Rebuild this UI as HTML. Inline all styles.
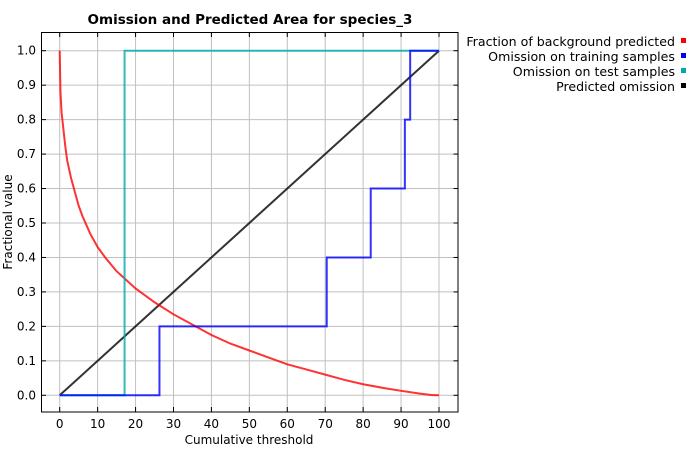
<!DOCTYPE html>
<html><head><meta charset="utf-8"><style>
body{margin:0;background:#fff;font-family:"DejaVu Sans","Liberation Sans",sans-serif;}
svg text{font-family:"DejaVu Sans","Liberation Sans",sans-serif;}
</style></head><body>
<svg id="chart" width="700" height="450" xmlns="http://www.w3.org/2000/svg">
<text x="250" y="24" text-anchor="middle" font-size="13.5" font-weight="bold">Omission and Predicted Area for species_3</text>
<g id="grid"></g>
<rect x="41.5" y="32.5" width="416.5" height="379.5" fill="none" stroke="#000" stroke-width="1"/>
<g id="ticks"></g>
<g id="series"></g>
<text x="249" y="444" text-anchor="middle" font-size="12">Cumulative threshold</text>
<text transform="translate(12,222) rotate(-90)" text-anchor="middle" font-size="12">Fractional value</text>
<g id="legend"></g>
</svg>
<script>
const xTicks=[0,10,20,30,40,50,60,70,80,90,100];
const yTicks=[0,0.1,0.2,0.3,0.4,0.5,0.6,0.7,0.8,0.9,1.0];
const bgX=[0,0.2,0.5,1,1.5,2,3,4,5,6,8,10,12,15,20,25,30,35,40,45,50,55,60,65,70,75,80,85,90,95,98,100];
const bgY=[1,0.88,0.82,0.77,0.72,0.68,0.63,0.59,0.55,0.52,0.47,0.43,0.40,0.36,0.31,0.27,0.235,0.205,0.175,0.15,0.13,0.11,0.09,0.075,0.06,0.045,0.032,0.022,0.013,0.005,0.001,0];
const trainX=[0,26.3,26.3,70.4,70.4,82,82,91,91,92.4,92.4,100];
const trainY=[0,0,0.2,0.2,0.4,0.4,0.6,0.6,0.8,0.8,1,1];
const testX=[0,17.1,17.1,100];
const testY=[0,0,1,1];
const predX=[0,100];
const predY=[0,1];
const legendLabels=["Fraction of background predicted","Omission on training samples","Omission on test samples","Predicted omission"];
const legendColors=["#ff0000","#0000ff","#00aaaa","#000000"];
const sx=v=>59.7+v*3.793, sy=v=>395.3-v*344.6;
const NS="http://www.w3.org/2000/svg";
function mk(t,a,p){const e=document.createElementNS(NS,t);for(const k in a)e.setAttribute(k,a[k]);p.appendChild(e);return e;}
const grid=document.getElementById('grid'),ticks=document.getElementById('ticks'),ser=document.getElementById('series'),leg=document.getElementById('legend');
xTicks.forEach(v=>{const x=sx(v);
const g=mk('line',{x1:x,x2:x,y1:32.5,y2:412,stroke:'#c0c0c0'},grid);


mk('line',{x1:x,x2:x,y1:32.5,y2:37,stroke:'#000'},ticks);
mk('line',{x1:x,x2:x,y1:412,y2:407,stroke:'#000'},ticks);
const t=mk('text',{x:x,y:428,'text-anchor':'middle','font-size':'12'},ticks);t.textContent=v;

});
yTicks.forEach(v=>{const y=sy(v);
const g=mk('line',{x1:41.5,x2:458,y1:y,y2:y,stroke:'#c0c0c0'},grid);


mk('line',{x1:41.5,x2:46,y1:y,y2:y,stroke:'#000'},ticks);
mk('line',{x1:458,x2:453.5,y1:y,y2:y,stroke:'#000'},ticks);
const t=mk('text',{x:36,y:y+4,'text-anchor':'end','font-size':'12'},ticks);t.textContent=v.toFixed(1);

});
function line(xs,ys,c,name){const p=mk('polyline',{points:xs.map((x,i)=>sx(x)+','+sy(ys[i])).join(' '),fill:'none',stroke:c,'stroke-width':2,'stroke-opacity':0.8},ser);

}
line(predX,predY,'#000','predicted-omission-line');
line(bgX,bgY,'#ff0000','background-predicted-line');
line(testX,testY,'#00aaaa','test-omission-line');
line(trainX,trainY,'#0000ff','training-omission-line');
legendLabels.forEach((l,i)=>{const y=46+i*15;
const t=mk('text',{x:675,y:y,'text-anchor':'end','font-size':'12.6'},leg);t.textContent=l;


const r=mk('rect',{x:681,y:y-8,width:5,height:5,fill:legendColors[i]},leg);

});
</script>
</body></html>
